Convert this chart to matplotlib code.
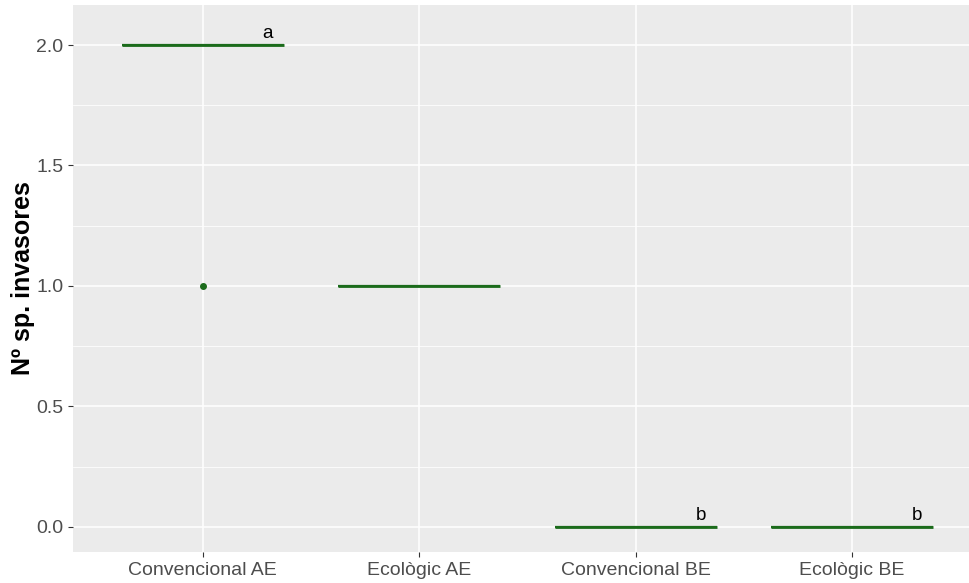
import numpy as np
from matplotlib import pyplot as plt

plt.rcParams['font.family'] = ['Liberation Sans', 'DejaVu Sans']

# categories and observed counts of invasive species per plot
grups = ['Convencional AE', 'Ecològic AE', 'Convencional BE', 'Ecològic BE']
conv_ae = [2, 2, 2, 2, 1]
eco_ae = [1, 1, 1, 1, 1]
conv_be = [0, 0, 0, 0, 0]
eco_be = [0, 0, 0, 0, 0]
lletres = ['a', '', 'b', 'b']
lletra_y = [2.0, 1.0, 0.0, 0.0]

verd = '#1b6b1b'

fig = plt.figure(figsize=(9.7, 5.83), dpi=100)
ax = fig.add_axes([73 / 970, 31 / 583, 1 - 73 / 970, 547 / 583])
ax.set_facecolor('#EBEBEB')

ax.set_yticks([0, 0.5, 1.0, 1.5, 2.0])
ax.set_yticks([0.25, 0.75, 1.25, 1.75], minor=True)
ax.grid(which='major', color='white', linewidth=1.1)
ax.grid(which='minor', axis='y', color='white', linewidth=0.55)
ax.set_axisbelow(True)

pos = np.arange(1, len(grups) + 1)
ax.boxplot([conv_ae, eco_ae, conv_be, eco_be], positions=pos, widths=0.75,
           patch_artist=True,
           boxprops=dict(facecolor='none', edgecolor=verd, linewidth=1.6),
           medianprops=dict(color=verd, linewidth=2.0),
           whiskerprops=dict(color=verd, linewidth=1.6),
           capprops=dict(linewidth=0),
           flierprops=dict(marker='o', markerfacecolor=verd, markeredgecolor=verd,
                           markersize=4))

for p, l, y in zip(pos, lletres, lletra_y):
    if l:
        ax.text(p + 0.3, y + 0.012, l, fontsize=13.5, ha='center', va='bottom', color='black')

ax.set_xticks(pos)
ax.set_xticklabels(grups)
ax.set_xlim(0.4, 4.545)
ax.set_ylim(-0.104, 2.166)
ax.set_yticklabels(['0.0', '0.5', '1.0', '1.5', '2.0'])

for s in ax.spines.values():
    s.set_visible(False)
ax.tick_params(which='major', colors='#333333', length=3.5, width=0.8,
               labelsize=14, labelcolor='#4D4D4D')
ax.tick_params(which='minor', length=0)

ax.set_ylabel('Nº sp. invasores', fontsize=18, fontweight='bold', labelpad=1)

fig.savefig('out.png', dpi=100)
